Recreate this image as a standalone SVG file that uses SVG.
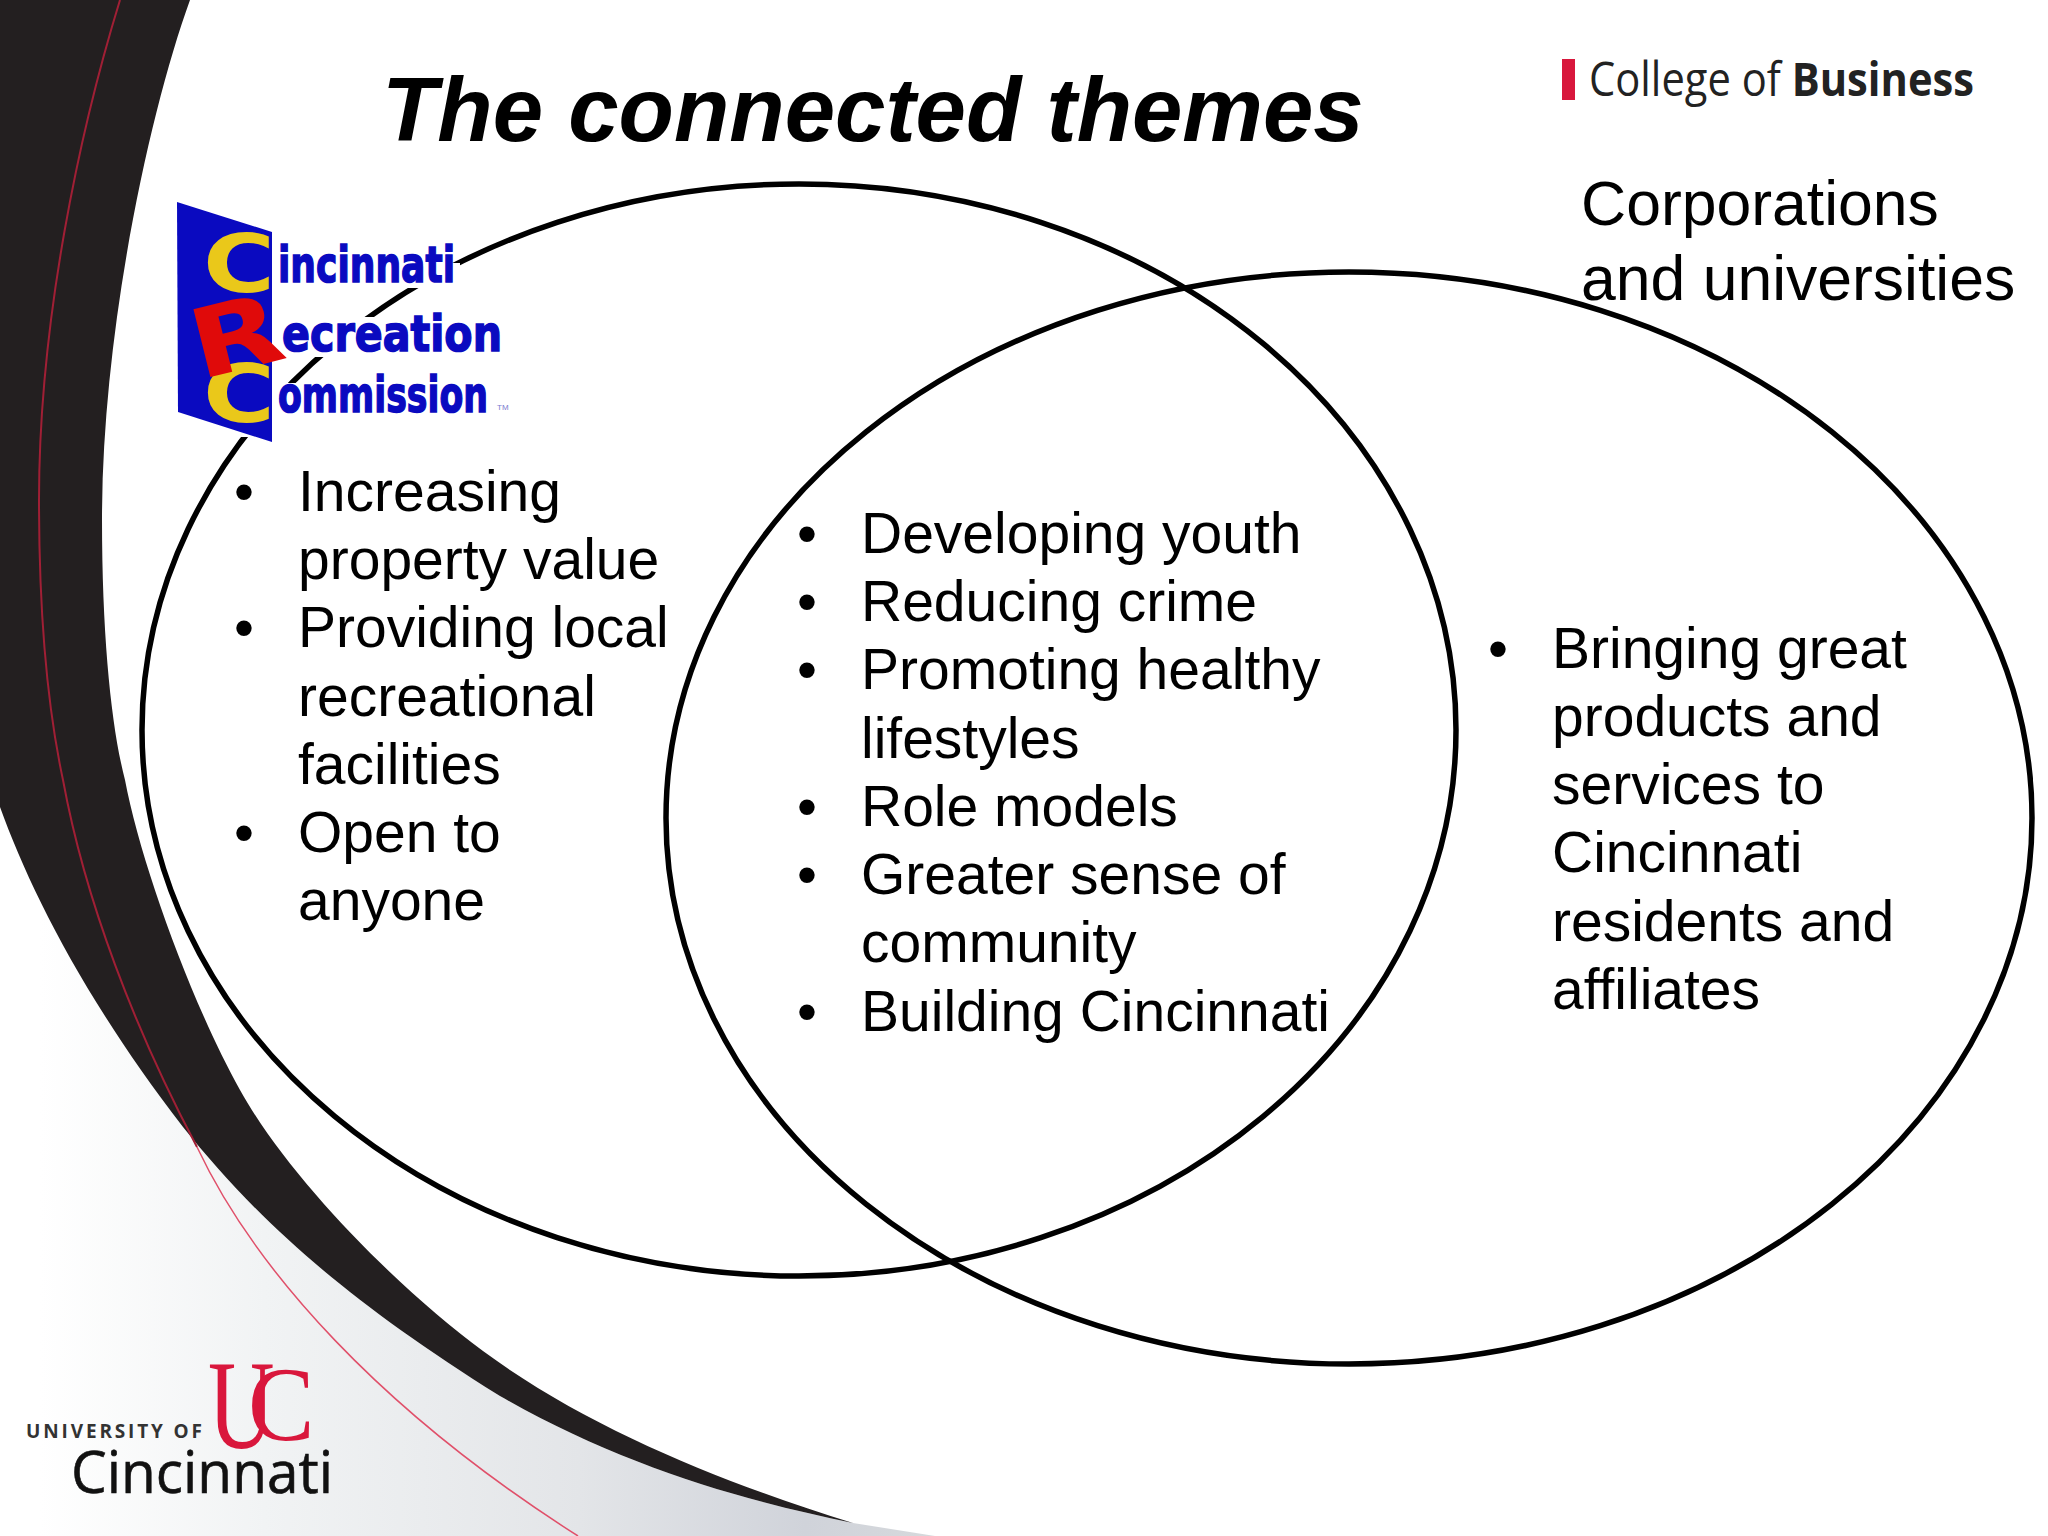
<svg xmlns="http://www.w3.org/2000/svg" width="2048" height="1536" viewBox="0 0 2048 1536">
<style>
.b{font-family:"Liberation Sans",Arial,sans-serif;font-size:57px;fill:#000}
.t{font-family:"Liberation Sans",Arial,sans-serif;font-size:90.6px;font-weight:bold;font-style:italic;fill:#000}
.c{font-family:"Liberation Sans",Arial,sans-serif;font-size:62.5px;fill:#000}
.e{fill:none;stroke:#000;stroke-width:5.5}
.crc{font-family:"DejaVu Sans",sans-serif;font-weight:bold;font-size:50px;fill:#0a0ac0;stroke:#0a0ac0;stroke-width:1.6}
.big{font-family:"DejaVu Sans",sans-serif;font-weight:bold;font-size:80px;fill:#eac81a}
.uc{font-family:"Liberation Serif",serif;fill:#d9173c}
</style>
<defs>
<linearGradient id="g" gradientUnits="userSpaceOnUse" x1="40" y1="0" x2="940" y2="0">
<stop offset="0" stop-color="#fff"/><stop offset=".25" stop-color="#f1f3f4"/><stop offset=".6" stop-color="#e3e5e8"/><stop offset=".85" stop-color="#d0d3da"/><stop offset="1" stop-color="#d6d9dc"/>
</linearGradient>
</defs>
<rect width="2048" height="1536" fill="#fff"/>
<g id="background">
<path fill="url(#g)" d="M0,807 C30,890 85,1000 183,1127 C250,1210 330,1290 500,1396 C620,1465 740,1500 853,1523 L935,1536 L0,1536Z"/>
<path fill="#231f20" d="M0,0 L190,0 C150,110 102,330 102,520 C102,640 112,730 125,780 C140,860 190,1000 240,1090 C290,1180 400,1290 483,1351 C590,1430 730,1485 853,1523 C740,1500 620,1465 500,1396 C330,1290 250,1210 183,1127 C85,1000 30,890 0,807Z"/>
<path fill="none" stroke="#a01f35" stroke-width="2" d="M120,0 C80,130 39,320 39,500 C39,620 48,710 63,780 C85,900 135,1030 197,1147"/>
<path fill="none" stroke="#e0506a" stroke-width="1.5" d="M197,1147 C255,1270 380,1410 578,1536"/>
</g>
<text id="title" class="t" x="382" y="141">The connected themes</text>
<g id="college-logo">
<rect x="1562" y="59" width="13" height="41" fill="#d8173c"/>
<text x="1589" y="96" font-family="'Open Sans',sans-serif" font-size="47" fill="#222" textLength="385" lengthAdjust="spacingAndGlyphs">College of <tspan font-weight="bold">Business</tspan></text>
</g>
<g id="connectors">
<ellipse class="e" cx="799" cy="730" rx="657" ry="546"/>
<ellipse class="e" cx="1349" cy="818" rx="683" ry="546"/>
</g>
<g id="crc-logo">
<rect x="270" y="263" width="190" height="25" fill="#fff"/>
<rect x="230" y="317" width="280" height="40" fill="#fff"/>
<rect x="230" y="383" width="270" height="54" fill="#fff"/>
<polygon points="177,202 272,232 272,442 178,412" fill="#0a0ac0"/>
<text class="big" x="203" y="292" textLength="72" lengthAdjust="spacingAndGlyphs">C</text>
<text class="big" x="203" y="422" textLength="72" lengthAdjust="spacingAndGlyphs">C</text>
<text x="190" y="370" font-family="'DejaVu Sans',sans-serif" font-weight="bold" font-size="96" fill="#e00a0a" transform="rotate(-14 235 335)" textLength="92" lengthAdjust="spacingAndGlyphs">R</text>
<text class="crc" x="278" y="282" textLength="177" lengthAdjust="spacingAndGlyphs">incinnati</text>
<text class="crc" x="282" y="351" textLength="220" lengthAdjust="spacingAndGlyphs">ecreation</text>
<text class="crc" x="278" y="412" textLength="210" lengthAdjust="spacingAndGlyphs">ommission</text>
<text x="497" y="410" font-family="'Liberation Sans',sans-serif" font-size="8" fill="#7b7bd0">TM</text>
</g>
<g id="corporations-label">
<text class="c" x="1581" y="225">Corporations</text>
<text class="c" x="1581" y="300">and universities</text>
</g>
<g id="left-list">
<text class="b" x="234" y="511">•</text><text class="b" x="298" y="511">Increasing</text>
<text class="b" x="298" y="579">property value</text>
<text class="b" x="234" y="647">•</text><text class="b" x="298" y="647">Providing local</text>
<text class="b" x="298" y="716">recreational</text>
<text class="b" x="298" y="784">facilities</text>
<text class="b" x="234" y="852">•</text><text class="b" x="298" y="852">Open to</text>
<text class="b" x="298" y="920">anyone</text>
</g>
<g id="middle-list">
<text class="b" x="797" y="553">•</text><text class="b" x="861" y="553">Developing youth</text>
<text class="b" x="797" y="621">•</text><text class="b" x="861" y="621">Reducing crime</text>
<text class="b" x="797" y="689">•</text><text class="b" x="861" y="689">Promoting healthy</text>
<text class="b" x="861" y="758">lifestyles</text>
<text class="b" x="797" y="826">•</text><text class="b" x="861" y="826">Role models</text>
<text class="b" x="797" y="894">•</text><text class="b" x="861" y="894">Greater sense of</text>
<text class="b" x="861" y="962">community</text>
<text class="b" x="797" y="1031">•</text><text class="b" x="861" y="1031">Building Cincinnati</text>
</g>
<g id="right-list">
<text class="b" x="1488" y="668">•</text><text class="b" x="1552" y="668">Bringing great</text>
<text class="b" x="1552" y="736">products and</text>
<text class="b" x="1552" y="804">services to</text>
<text class="b" x="1552" y="872">Cincinnati</text>
<text class="b" x="1552" y="941">residents and</text>
<text class="b" x="1552" y="1009">affiliates</text>
</g>
<g id="uc-logo">
<text class="uc" font-size="128" transform="translate(208,1448) scale(.72,1)">U</text>
<text class="uc" font-size="105" transform="translate(248,1440) scale(.95,1)">C</text>
<text x="26" y="1438" font-family="'Open Sans',sans-serif" font-weight="bold" font-size="19" fill="#333" textLength="176">UNIVERSITY OF</text>
<text x="71" y="1493" font-family="'Open Sans',sans-serif" font-size="58" fill="#111" stroke="#111" stroke-width=".6" textLength="262" lengthAdjust="spacingAndGlyphs">Cincinnati</text>
</g>
</svg>
